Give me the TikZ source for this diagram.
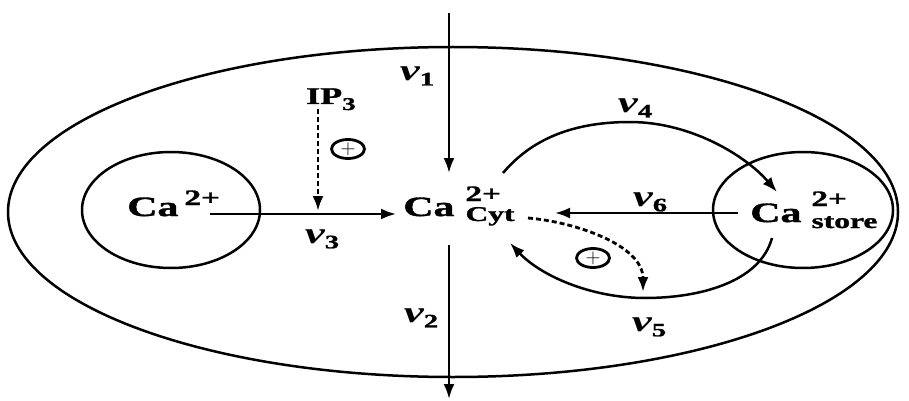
\documentclass[tikz,border=0pt]{standalone}
\usepackage{fontspec}
\usepackage{graphicx}
\setmainfont{Liberation Serif}[BoldFeatures={FakeBold=1.2}]
\usetikzlibrary{arrows.meta,shapes.geometric}
\newcommand{\sx}[1]{\scalebox{1.5}[1]{#1}}
\newcommand{\bigf}{\fontsize{28}{28}\selectfont\bfseries}
\newcommand{\vlab}[1]{\sx{\fontsize{30}{30}\selectfont\bfseries\itshape v}\raisebox{-5pt}{\sx{\fontsize{19}{19}\selectfont\bfseries #1}}}
\begin{document}
\begin{tikzpicture}[x=1pt,y=-1pt,
  ln/.style={line width=2.5pt},
  arr/.style={ln,-{Latex[length=15pt,width=11pt]}},
  darr/.style={line width=2.8pt,dash pattern=on 5pt off 3pt,-{Latex[length=15pt,width=11pt]}},
  txt/.style={inner sep=0pt,anchor=base west},
  lab/.style={inner sep=0pt,anchor=center},
  plussign/.style={ellipse,draw,line width=2.8pt,minimum width=33pt,minimum height=19pt,inner sep=0pt}]
\useasboundingbox (0,0) rectangle (909,401);
% cell and compartments
\draw[ln] (453,212) ellipse [x radius=445, y radius=165];
\draw[ln] (171,210) ellipse [x radius=89, y radius=58];
\draw[ln] (803,210) ellipse [x radius=90, y radius=58];
% species
\node[txt] (caL) at (127,216) {\sx{\bigf Ca}\hspace{6pt}\raisebox{11pt}{\sx{\fontsize{22}{22}\selectfont\bfseries 2+}}};
\node[txt] (caC) at (403,216) {\sx{\bigf Ca}\hspace{11pt}\rlap{\raisebox{15pt}{\sx{\fontsize{22}{22}\selectfont\bfseries 2+}}}\raisebox{-5pt}{\sx{\fontsize{21}{21}\selectfont\bfseries Cyt}}};
\node[txt] (caS) at (750,222) {\sx{\bigf Ca}\hspace{10pt}\rlap{\raisebox{16pt}{\sx{\fontsize{22}{22}\selectfont\bfseries 2+}}}\raisebox{-6pt}{\sx{\fontsize{21}{21}\selectfont\bfseries store}}};
\node[txt] (ip3) at (306,104) {\sx{\fontsize{24}{24}\selectfont\bfseries IP}\raisebox{-6pt}{\sx{\fontsize{18}{18}\selectfont\bfseries 3}}};
% connector end points
\coordinate (v1a) at (449,13);
\coordinate (v1b) at (449,173);
\coordinate (v2a) at (449,245);
\coordinate (v2b) at (449,399);
\coordinate (v3a) at (210,214);
\coordinate (v3b) at (396,214);
\coordinate (ipa) at (318,109);
\coordinate (ipb) at (318,211);
\coordinate (v4a) at (503,173);
\coordinate (v4m) at (630,122);
\coordinate (v4b) at (777,192);
\coordinate (v6a) at (738,213);
\coordinate (v6b) at (555,213);
\coordinate (v5a) at (772,238);
\coordinate (v5m) at (645,298);
\coordinate (v5b) at (510,243);
\coordinate (da) at (528,218);
\coordinate (db) at (643,292);
% fluxes
\draw[arr] (v1a) -- (v1b);
\draw[arr] (v2a) -- (v2b);
\draw[arr] (v3a) -- (v3b);
\draw[darr] (ipa) -- (ipb);
\draw[arr] (v4a) .. controls (535,135) and (580,122) .. (v4m) .. controls (690,122) and (745,155) .. (v4b);
\draw[arr] (v6a) -- (v6b);
\draw[arr] (v5a) .. controls (760,282) and (700,298) .. (v5m) .. controls (590,298) and (540,275) .. (v5b);
\draw[darr] (da) .. controls (575,222) and (643,245) .. (db);
% labels
\node[lab] (l1) at (417,76) {\vlab{1}};
\node[lab] (l2) at (421,318) {\vlab{2}};
\node[lab] (l3) at (322,239) {\vlab{3}};
\node[lab] (l4) at (635,108) {\vlab{4}};
\node[lab] (l5) at (649,327) {\vlab{5}};
\node[lab] (l6) at (650,202) {\vlab{6}};
\node[plussign] (p1) at (348,149) {\fontsize{20}{20}\selectfont$+$};
\node[plussign] (p2) at (593,258) {\fontsize{20}{20}\selectfont$+$};
\end{tikzpicture}
\end{document}
